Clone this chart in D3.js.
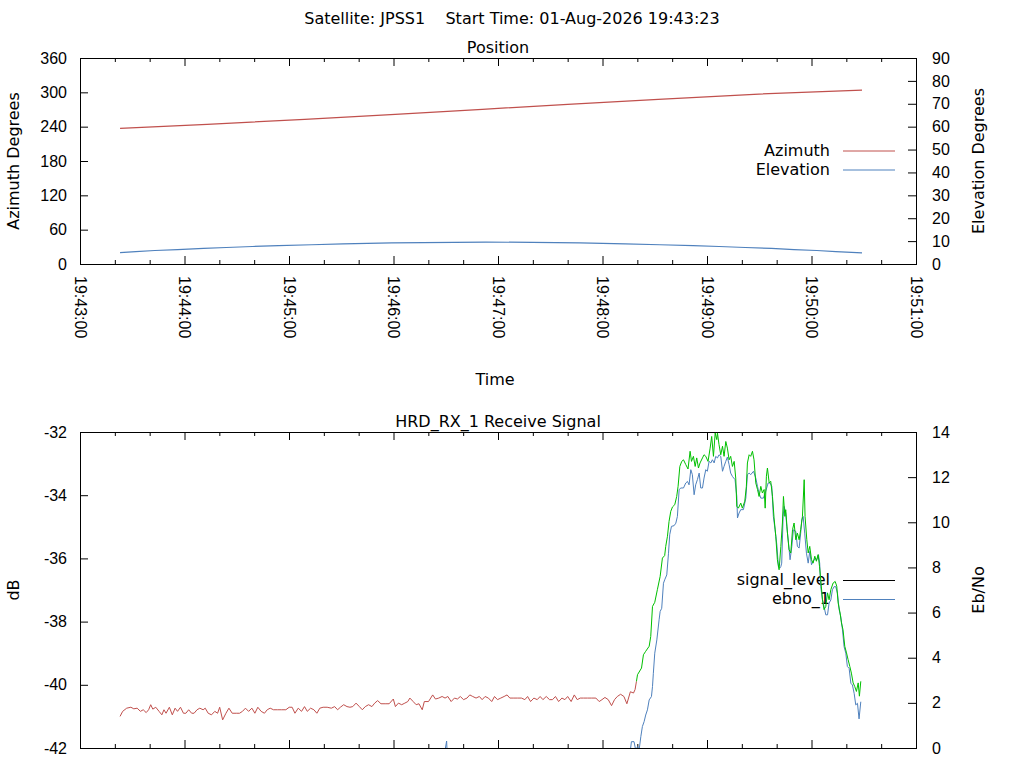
<!DOCTYPE html>
<html>
<head>
<meta charset="utf-8">
<script src="https://cdn.jsdelivr.net/npm/d3@7"></script>
<style>
  body { margin: 0; background: #fff; }
  svg { display: block; font-family: "DejaVu Sans", sans-serif; font-size: 16px; }
  text { fill: #000; }
</style>
</head>
<body>
<div id="vis-holder"></div>
<script>
// Times are seconds after 19:43:00 on 01-Aug-2026

// Position panel
const azimuth = [
  [23, 237.0], [73, 244.1], [129, 252.9], [181, 261.6], [231, 270.3],
  [280, 279.1], [332, 287.8], [387, 296.6], [449, 303.8]
];
const elevation = [
  [23, 5.0], [32, 5.4], [43, 5.9], [56, 6.3], [71, 6.8], [84, 7.2], [99, 7.65],
  [114, 8.05], [133, 8.4], [151, 8.8], [179, 9.25], [233, 9.6], [287, 9.25],
  [313, 8.8], [333, 8.4], [352, 8.05], [367, 7.65], [382, 7.2], [397, 6.8],
  [410, 6.3], [423, 5.9], [434, 5.4], [449, 4.9]
];

// Receive signal panel
const signalLevel = [
  [23, -41.00], [24.5, -40.84], [26.8, -40.74], [29.2, -40.71], [30.9, -40.76], [32.8, -40.74],
  [34.7, -40.84], [36.3, -40.79], [38.0, -40.88], [39.4, -40.79], [40.6, -40.63], [41.8, -40.77],
  [43.5, -40.71], [45.4, -40.84], [47.0, -40.95], [48.2, -40.79], [49.4, -40.90], [51.3, -40.71],
  [53.0, -40.95], [54.6, -40.74], [56.0, -40.84], [57.7, -40.71], [59.4, -40.90], [60.8, -40.90],
  [62.4, -40.79], [64.1, -40.90], [65.5, -40.90], [67.2, -40.79], [68.8, -40.74], [70.7, -40.79],
  [71.9, -40.74], [73.6, -40.90], [75.5, -40.95], [77.4, -40.84], [79.0, -40.90], [80.2, -40.71],
  [81.9, -41.11], [83.8, -40.90], [85.5, -40.74], [87.4, -40.90], [89.7, -40.90], [91.6, -40.90],
  [93.3, -40.84], [95.0, -40.74], [96.8, -40.84], [98.7, -40.74], [100.4, -40.90], [102.1, -40.71],
  [104.0, -40.84], [105.9, -40.90], [107.5, -40.79], [109.2, -40.74], [111.1, -40.79], [113.5, -40.79],
  [115.8, -40.79], [118.2, -40.79], [120.1, -40.71], [121.8, -40.71], [123.4, -40.90], [125.3, -40.74],
  [127.2, -40.84], [128.9, -40.69], [130.5, -40.84], [132.4, -40.74], [134.3, -40.79], [136.0, -40.90],
  [137.7, -40.74], [139.6, -40.71], [141.9, -40.71], [144.3, -40.74], [146.2, -40.69], [147.9, -40.79],
  [149.5, -40.71], [151.4, -40.63], [153.3, -40.69], [155.0, -40.71], [156.6, -40.69], [158.5, -40.58],
  [160.4, -40.69], [162.1, -40.79], [163.8, -40.69], [165.7, -40.63], [167.6, -40.69], [169.2, -40.58],
  [170.9, -40.50], [172.8, -40.60], [175.2, -40.60], [177.5, -40.60], [179.9, -40.45], [181.1, -40.69],
  [182.8, -40.58], [184.7, -40.63], [186.5, -40.58], [188.2, -40.53], [189.4, -40.42], [191.3, -40.53],
  [193.0, -40.63], [194.6, -40.60], [196.5, -40.79], [197.7, -40.53], [200.1, -40.53], [202.5, -40.32],
  [204.1, -40.45], [206.0, -40.42], [207.9, -40.37], [209.6, -40.42], [211.2, -40.37], [213.1, -40.53],
  [215.0, -40.42], [216.7, -40.45], [218.4, -40.37], [220.2, -40.47], [222.2, -40.42], [223.8, -40.32],
  [225.5, -40.37], [227.4, -40.42], [229.3, -40.37], [230.9, -40.47], [232.6, -40.37], [234.5, -40.42],
  [236.4, -40.53], [238.0, -40.37], [239.7, -40.47], [241.6, -40.42], [243.5, -40.37], [245.2, -40.32],
  [246.8, -40.42], [248.7, -40.42], [251.1, -40.42], [253.5, -40.42], [255.4, -40.47], [257.0, -40.37],
  [258.7, -40.53], [260.6, -40.42], [262.5, -40.47], [264.2, -40.37], [265.8, -40.47], [267.7, -40.37],
  [269.6, -40.47], [271.3, -40.47], [273.0, -40.37], [274.8, -40.53], [276.7, -40.42], [278.4, -40.47],
  [280.0, -40.37], [282.0, -40.53], [283.8, -40.32], [285.5, -40.47], [287.2, -40.42], [289.1, -40.42],
  [291.4, -40.42], [293.8, -40.42], [296.2, -40.42], [298.1, -40.53], [299.7, -40.47], [301.4, -40.40],
  [303.3, -40.47], [305.2, -40.66], [306.9, -40.47], [308.5, -40.37], [310.4, -40.30], [312.3, -40.37],
  [314.0, -40.60], [316.0, -40.22], [317.8, -40.26], [318.7, -40.15], [319.5, -39.89],
  [320.1, -39.68], [322.4, -39.47], [323.5, -39.05], [324.8, -38.94], [326.8, -38.78], [327.7, -38.47],
  [328.7, -37.52], [330.0, -37.39], [331.5, -36.99], [333.1, -36.57], [334.4, -35.99], [335.7, -35.91],
  [336.3, -35.62], [337.3, -35.30], [338.2, -34.83], [339.2, -34.51], [340.2, -34.37], [341.5, -34.30],
  [342.6, -34.04], [343.4, -33.72], [344.4, -33.09], [345.5, -32.93], [346.5, -32.88], [347.8, -33.03],
  [349.1, -33.17], [350.3, -32.61], [351.1, -32.93], [352.2, -32.77], [353.2, -33.09], [354.1, -32.82],
  [355.1, -33.14], [356.0, -32.98], [357.4, -32.82], [358.3, -32.72], [359.3, -32.77], [360.6, -32.93],
  [361.8, -32.51], [362.7, -32.14], [363.7, -32.77], [364.7, -32.03], [365.6, -32.24], [366.0, -32.03],
  [366.9, -32.40], [367.9, -32.72], [368.9, -32.45], [369.8, -32.77], [370.8, -32.30], [371.7, -32.51],
  [372.7, -32.88], [373.6, -32.77], [374.6, -33.09], [375.6, -32.93], [376.5, -33.46], [377.1, -34.35],
  [378.0, -34.41], [379.4, -34.25], [380.3, -34.41], [381.7, -34.19], [382.6, -33.72], [383.2, -32.98],
  [384.2, -32.72], [385.1, -32.77], [386.1, -32.61], [387.0, -32.88], [388.0, -33.61], [389.0, -33.82],
  [389.9, -34.04], [390.9, -33.72], [391.8, -33.93], [392.8, -33.82], [393.4, -34.41], [394.1, -33.40],
  [394.7, -33.14], [395.7, -33.61], [396.6, -33.56], [397.6, -34.04], [398.5, -34.72], [399.5, -35.30],
  [400.4, -36.04], [401.4, -36.36], [402.4, -35.62], [403.3, -34.88], [403.9, -34.04], [404.7, -34.67],
  [405.2, -34.46], [406.2, -35.20], [407.1, -35.72], [408.1, -35.83], [409.1, -35.09], [410.0, -34.88],
  [411.0, -35.41], [411.9, -35.20], [412.9, -35.41], [413.8, -35.09], [414.8, -34.67], [415.8, -33.51],
  [416.3, -34.67], [417.3, -35.41], [418.1, -35.83], [419.0, -35.62], [420.0, -36.04], [420.9, -36.15],
  [421.9, -35.93], [422.8, -36.09], [423.8, -35.88], [424.6, -36.25], [425.3, -36.67], [426.3, -37.31],
  [427.2, -37.62], [428.2, -37.52], [429.2, -37.09], [430.1, -37.31], [431.1, -36.99], [432.4, -36.78],
  [433.6, -36.73], [434.5, -36.88], [435.3, -37.41], [436.4, -37.73], [437.2, -38.04], [438.1, -38.26],
  [439.1, -38.78], [440.1, -38.99], [441.0, -39.20], [442.0, -39.42], [442.9, -39.63], [443.9, -39.94],
  [444.8, -40.05], [445.8, -40.21], [446.8, -39.94], [447.5, -40.36], [448.3, -39.89]
];
// receiver lock: signal drawn green from here on
const lockSec = 319.5;

const ebno = [
  [23, -2.5], [205, -2.2], [210.5, 0.31], [212, -2.2], [313, -2.0], [316.6, 0.28], [318.1, 0.28],
  [319.1, -0.1], [320.1, 0.06], [321.0, -0.1], [322.0, 0.50], [322.9, 0.95], [323.9, 1.17],
  [324.8, 1.46], [325.8, 1.69], [326.8, 2.13], [328.1, 2.28], [328.7, 2.72], [329.2, 3.31],
  [330.0, 4.20], [331.2, 4.79], [332.5, 5.68], [333.1, 6.05], [334.0, 6.19], [335.0, 7.30],
  [335.7, 7.45], [336.9, 7.67], [337.9, 8.63], [338.6, 9.45], [339.6, 9.82], [341.1, 9.85],
  [342.1, 9.96], [343.0, 10.26], [344.0, 11.44], [344.9, 11.52], [346.5, 11.52], [347.8, 11.74],
  [348.8, 11.81], [349.7, 11.66], [350.7, 12.33], [351.6, 12.11], [352.6, 11.22], [353.5, 11.66],
  [354.5, 11.89], [355.5, 12.18], [356.4, 11.52], [357.4, 11.52], [358.3, 11.96], [359.3, 12.33],
  [360.2, 12.26], [361.2, 12.70], [362.2, 12.63], [363.1, 12.77], [364.1, 12.63], [365.0, 12.92],
  [366.0, 12.85], [366.9, 12.99], [367.9, 12.92], [368.9, 12.26], [369.8, 12.48], [370.8, 12.70],
  [371.7, 12.89], [372.7, 12.55], [373.6, 12.18], [374.6, 12.03], [376.1, 11.89], [377.1, 11.15],
  [377.5, 10.19], [378.4, 10.41], [379.4, 10.56], [380.9, 10.56], [382.3, 11.07], [383.2, 12.11],
  [384.2, 12.18], [385.1, 12.11], [386.7, 12.26], [388.0, 11.96], [389.0, 11.59], [389.9, 11.29],
  [390.9, 11.07], [392.4, 11.07], [393.7, 11.37], [395.1, 11.74], [396.2, 11.74], [397.2, 11.59],
  [398.1, 10.26], [399.1, 9.67], [400.1, 9.00], [401.0, 8.04], [401.8, 7.97], [402.4, 8.04],
  [402.9, 8.19], [403.7, 10.26], [404.3, 10.70], [405.2, 10.41], [405.8, 9.82], [406.8, 9.08],
  [407.7, 8.34], [408.7, 8.93], [409.6, 9.67], [411.0, 9.59], [411.9, 8.93], [412.9, 8.86],
  [413.8, 9.52], [414.4, 10.11], [415.2, 10.26], [416.1, 9.52], [417.1, 8.63], [418.1, 8.19],
  [419.0, 8.71], [420.0, 8.12], [420.9, 8.26], [422.1, 8.41], [423.0, 8.34], [424.0, 8.56],
  [424.7, 8.19], [425.3, 7.15], [426.3, 6.56], [427.2, 6.27], [428.2, 5.90], [429.2, 5.90],
  [430.1, 6.42], [431.1, 6.56], [432.0, 7.01], [433.0, 7.15], [433.9, 7.15], [434.9, 6.86],
  [435.9, 6.12], [436.8, 5.82], [437.8, 5.23], [438.7, 4.49], [439.7, 4.20], [440.6, 3.61],
  [441.6, 3.53], [442.6, 2.87], [443.5, 2.79], [444.5, 2.42], [445.4, 1.91], [446.4, 1.98],
  [447.3, 1.29], [448.3, 2.05]
];

const azTicks = [0, 60, 120, 180, 240, 300, 360];
const elTicks = [0, 10, 20, 30, 40, 50, 60, 70, 80, 90];
const dbTicks = [-42, -40, -38, -36, -34, -32];
const ebnoTicks = [0, 2, 4, 6, 8, 10, 12, 14];

const colors = { red: "#c0504d", blue: "#4f81bd", green: "#00c000", key: "#000" };

// Layout
const width = 1024, height = 768;
const left = 80, right = 916;
const panels = [
  { top: 58, bottom: 264 },
  { top: 432, bottom: 748 }
];

const svg = d3.select("#vis-holder")
              .append("svg")
              .attr("width", width)
              .attr("height", height);

const base = new Date(2026, 7, 1, 19, 43, 0);
const toDate = (s) => new Date(base.getTime() + s * 1000);

const x = d3.scaleTime()
            .domain([toDate(0), toDate(480)])
            .range([left, right]);
const majorX = d3.range(0, 481, 60).map(toDate);
const minorX = d3.range(0, 481, 20).filter((s) => s % 60 !== 0).map(toDate);

// plain hyphen minus like the original, not U+2212
const plain = (d) => String(d);

function frame(p, yL, yR, lTicks, rTicks, id, showXLabels) {
  const g = svg.append("g");

  g.append("clipPath").attr("id", id)
    .append("rect")
    .attr("x", left).attr("y", p.top)
    .attr("width", right - left).attr("height", p.bottom - p.top);

  // bottom major / minor ticks
  const xb = g.append("g")
    .attr("transform", `translate(0,${p.bottom})`)
    .call(d3.axisBottom(x).tickValues(majorX).tickSize(-8).tickPadding(12)
            .tickFormat(d3.timeFormat("%H:%M:%S")));
  xb.select(".domain").remove();
  if (showXLabels) {
    xb.selectAll("text")
      .attr("transform", "rotate(90)")
      .attr("x", 12).attr("y", 0).attr("dy", "0.35em")
      .attr("text-anchor", "start")
      .style("font-size", "16px");
  } else {
    xb.selectAll("text").remove();
  }
  g.append("g")
    .attr("transform", `translate(0,${p.bottom})`)
    .call(d3.axisBottom(x).tickValues(minorX).tickSize(-4).tickFormat(""))
    .call((a) => a.select(".domain").remove());

  // mirrored ticks on top edge
  g.append("g")
    .attr("transform", `translate(0,${p.top})`)
    .call(d3.axisTop(x).tickValues(majorX).tickSize(-8).tickFormat(""))
    .call((a) => a.select(".domain").remove());
  g.append("g")
    .attr("transform", `translate(0,${p.top})`)
    .call(d3.axisTop(x).tickValues(minorX).tickSize(-4).tickFormat(""))
    .call((a) => a.select(".domain").remove());

  g.append("g")
    .attr("transform", `translate(${left},0)`)
    .call(d3.axisLeft(yL).tickValues(lTicks).tickSize(-8).tickPadding(13).tickFormat(plain))
    .call((a) => a.select(".domain").remove())
    .selectAll("text").style("font-size", "16px");
  g.append("g")
    .attr("transform", `translate(${right},0)`)
    .call(d3.axisRight(yR).tickValues(rTicks).tickSize(-8).tickPadding(16).tickFormat(plain))
    .call((a) => a.select(".domain").remove())
    .selectAll("text").style("font-size", "16px");

  g.selectAll(".tick line").attr("stroke", "#000");

  g.append("rect")
    .attr("x", left + 0.5).attr("y", p.top + 0.5)
    .attr("width", right - left).attr("height", p.bottom - p.top)
    .attr("fill", "none").attr("stroke", "#000").attr("stroke-width", 1);
  return g;
}

function key(g, items, yFirst) {
  items.forEach((it, i) => {
    const yy = yFirst + i * 19;
    g.append("text")
      .attr("x", 830).attr("y", yy + 5)
      .attr("text-anchor", "end")
      .text(it.label);
    g.append("line")
      .attr("x1", 843).attr("x2", 895)
      .attr("y1", yy + 0.5).attr("y2", yy + 0.5)
      .attr("stroke", it.color).attr("stroke-width", 1);
  });
}

function rotLabel(text, cx, cy) {
  svg.append("text")
    .attr("transform", `translate(${cx},${cy}) rotate(-90)`)
    .attr("text-anchor", "middle")
    .attr("dy", "0.35em")
    .text(text);
}

const mid = (left + right) / 2;

// Titles
svg.append("text")
   .attr("x", 512).attr("y", 24)
   .attr("text-anchor", "middle")
   .attr("xml:space", "preserve")
   .style("white-space", "pre")
   .text("Satellite: JPSS1    Start Time: 01-Aug-2026 19:43:23");

/*
Position panel
*/
{
  const p = panels[0];
  const yAz = d3.scaleLinear().domain([0, 360]).range([p.bottom, p.top]);
  const yEl = d3.scaleLinear().domain([0, 90]).range([p.bottom, p.top]);
  const g = frame(p, yAz, yEl, azTicks, elTicks, "clip-pos", true);

  svg.append("text").attr("x", mid).attr("y", 52.5)
     .attr("text-anchor", "middle").text("Position");
  rotLabel("Azimuth Degrees", 13, (p.top + p.bottom) / 2);
  rotLabel("Elevation Degrees", 978, (p.top + p.bottom) / 2);
  svg.append("text").attr("x", 495).attr("y", 385)
     .attr("text-anchor", "middle").text("Time");

  key(g, [{ label: "Azimuth", color: colors.red },
          { label: "Elevation", color: colors.blue }], 150.5);

  const lineAz = d3.line().x((d) => x(toDate(d[0]))).y((d) => yAz(d[1]));
  const lineEl = d3.line().x((d) => x(toDate(d[0]))).y((d) => yEl(d[1]));
  g.append("path").datum(azimuth)
    .attr("d", lineAz).attr("fill", "none")
    .attr("stroke", colors.red).attr("stroke-width", 1.2)
    .attr("clip-path", "url(#clip-pos)");
  g.append("path").datum(elevation)
    .attr("d", lineEl).attr("fill", "none")
    .attr("stroke", colors.blue).attr("stroke-width", 1.2)
    .attr("clip-path", "url(#clip-pos)");
}

/*
Receive signal panel
*/
{
  const p = panels[1];
  const yDb = d3.scaleLinear().domain([-42, -32]).range([p.bottom, p.top]);
  const yEb = d3.scaleLinear().domain([0, 14]).range([p.bottom, p.top]);
  const g = frame(p, yDb, yEb, dbTicks, ebnoTicks, "clip-sig", false);

  svg.append("text").attr("x", mid).attr("y", 426.5)
     .attr("text-anchor", "middle").text("HRD_RX_1 Receive Signal");
  rotLabel("dB", 13, (p.top + p.bottom) / 2);
  rotLabel("Eb/No", 978, (p.top + p.bottom) / 2);

  key(g, [{ label: "signal_level", color: colors.key },
          { label: "ebno_1", color: colors.blue }], 580);

  const lineDb = d3.line().x((d) => x(toDate(d[0]))).y((d) => yDb(d[1]));
  const lineEb = d3.line().x((d) => x(toDate(d[0]))).y((d) => yEb(d[1]));

  g.append("path").datum(ebno)
    .attr("d", lineEb).attr("fill", "none")
    .attr("stroke", colors.blue).attr("stroke-width", 1)
    .attr("clip-path", "url(#clip-sig)");
  g.append("path").datum(signalLevel.filter((d) => d[0] <= lockSec))
    .attr("d", lineDb).attr("fill", "none")
    .attr("stroke", colors.red).attr("stroke-width", 1)
    .attr("clip-path", "url(#clip-sig)");
  g.append("path").datum(signalLevel.filter((d) => d[0] >= lockSec))
    .attr("d", lineDb).attr("fill", "none")
    .attr("stroke", colors.green).attr("stroke-width", 1)
    .attr("clip-path", "url(#clip-sig)");
}
</script>
</body>
</html>
